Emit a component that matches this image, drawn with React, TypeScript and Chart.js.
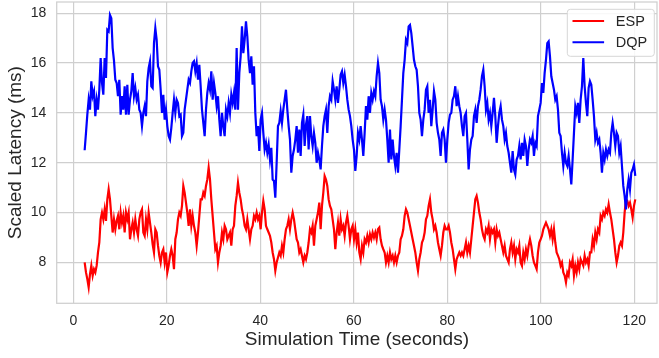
import React, { useEffect, useRef } from "react";
import { Chart, registerables } from "chart.js";

Chart.register(...registerables);

// Simulation sampling
const SAMPLE_START = 2.43; // seconds
const SAMPLE_INTERVAL = 0.2852; // seconds

const X_TICKS = [0, 20, 40, 60, 80, 100, 120];
const Y_TICKS = [8, 10, 12, 14, 16, 18];

const SERIES_NAMES = ["ESP", "DQP"];

const ESP_LATENCY = [
  8.0, 7.6, 7.33, 7.0, 7.53, 7.87, 7.47, 7.73, 7.6, 7.87, 8.4, 8.8, 9.73, 10.0, 9.73, 10.13, 9.67, 10.53, 10.93, 10.53,
  9.87, 9.2, 9.73, 9.33, 9.67, 9.87, 9.33, 10.0, 9.6, 9.87, 9.2, 10.0, 9.73, 10.0, 8.93, 9.33, 9.6, 9.2, 9.73, 9.33,
  9.07, 9.73, 10.0, 10.13, 9.2, 9.07, 9.73, 9.33, 10.0,
  9.6, 9.2, 8.73, 8.4, 9.33, 9.2, 8.67, 8.27, 8.0, 8.4, 8.53, 8.0, 8.4, 7.6, 7.87, 8.27, 8.53, 8.27, 7.73, 8.93,
  9.2, 9.73, 10.0, 9.87, 10.27, 11.07, 10.8, 10.4, 10.0, 9.47, 10.13, 9.47, 9.87, 9.47, 9.2, 8.67, 9.2, 9.87, 10.53, 10.53,
  10.8, 10.67, 11.07, 11.33, 11.8, 11.33, 10.53, 9.87, 9.2, 8.53, 8.67, 8.0, 8.4, 8.67, 9.2, 8.93, 9.47, 9.33, 8.93, 9.07,
  9.2, 8.67, 9.33, 9.47, 10.27, 10.67, 11.2, 10.8, 10.53, 10.13, 9.87, 9.47, 9.33, 9.73, 9.33, 8.93, 9.33, 9.47, 9.87, 9.73,
  10.0, 9.73, 9.87, 9.33, 10.0, 10.47, 10.13, 9.47, 9.33, 9.2, 9.07, 8.8, 8.4, 8.13, 7.67, 8.0, 8.2, 8.4, 8.27, 8.67,
  8.4, 8.93, 9.33, 9.47, 9.73, 9.33, 9.73, 10.0, 9.73, 9.33, 8.93, 8.8, 8.4, 8.53, 8.27, 8.0, 8.27, 8.13, 8.4, 8.8,
  9.33, 9.2, 9.47, 8.67, 9.47, 9.73, 10.0, 10.4, 9.33, 10.27, 10.8, 11.47, 11.33, 11.07, 10.53, 10.27, 10.13, 9.73, 9.33, 8.53,
  9.2, 9.6, 9.07, 9.73, 9.33, 9.47, 9.07, 9.6, 9.87, 9.47, 8.93, 9.33, 9.47, 8.93, 9.33, 8.8, 9.2, 8.4, 8.13, 8.67,
  8.4, 8.93, 8.8, 9.07, 8.8, 9.13, 8.93, 9.2, 9.0, 9.2, 8.93, 9.33, 9.4, 8.93, 8.67, 8.53, 8.4, 8.0, 8.27, 8.0,
  8.4, 8.13, 8.27, 8.0, 8.27, 8.0, 8.27, 8.4, 8.93, 9.07, 9.33, 9.87, 10.13, 10.0, 9.73, 9.47, 9.2, 8.93, 8.67, 8.4,
  8.0, 7.67, 8.13, 8.4, 8.8, 8.93, 9.2, 9.73, 9.87, 10.27, 10.53, 10.0, 9.73, 9.33, 9.47, 9.2, 8.8, 8.53, 8.27, 8.67,
  9.2, 9.47, 9.33, 9.33, 9.47, 9.2, 8.8, 8.53, 8.13, 7.73, 8.13, 8.27, 8.4, 8.27, 8.4, 8.27, 8.53, 8.8, 8.4, 8.67,
  8.4, 8.93, 9.47, 10.0, 10.53, 10.67, 10.4, 10.0, 9.73, 9.33, 9.07, 8.93, 9.33, 9.2, 9.47, 8.93, 9.33, 9.2, 9.33, 8.8,
  9.33, 9.07, 9.2, 8.93, 8.67, 8.4, 8.67, 8.27, 8.13, 8.0, 8.53, 8.8, 8.4, 8.67, 8.13, 8.53, 8.4, 8.67, 8.0, 7.87,
  8.4, 8.13, 8.53, 8.27, 8.67, 8.93, 8.67, 8.27, 8.0, 7.87, 7.73, 8.4, 8.8, 8.93, 9.07, 9.33, 9.47, 9.6, 9.47, 9.33,
  9.07, 9.33, 8.93, 9.33, 8.8, 8.4, 8.27, 8.13, 7.87, 8.0, 7.6, 7.47, 7.2, 7.6, 7.47, 8.0, 7.87, 8.13, 7.47, 7.87,
  7.6, 8.0, 7.73, 8.13, 8.0, 7.87, 8.27, 8.0, 8.13, 7.87, 8.4, 8.4, 8.93, 8.67, 9.2, 8.93, 9.33, 9.2, 9.87, 9.73,
  10.0, 9.87, 10.13, 10.0, 10.33, 10.0, 9.73, 9.33, 8.93, 8.4, 8.0, 8.27, 8.67, 8.8, 8.67, 9.2, 10.0, 10.53, 10.47, 10.27,
  10.4, 10.13, 9.8, 10.27, 10.53,
];

const DQP_LATENCY = [
  12.5, 13.2, 13.93, 14.53, 14.13, 15.27, 14.67, 14.87, 13.87, 14.53, 14.13, 14.93, 16.2, 15.2, 14.73, 16.2, 15.4, 17.33, 17.27, 17.93,
  17.8, 16.6, 16.1, 15.33, 15.2, 14.67, 15.33, 13.93, 14.67, 14.13, 15.07, 13.93, 15.13, 13.93, 14.53, 14.87, 15.6, 14.67, 15.0, 14.53,
  14.73, 14.13, 14.0, 13.47, 14.0, 14.27, 13.87, 15.27, 15.8,
  16.07, 15.07, 15.0, 16.8, 17.4, 16.93, 15.87, 15.73, 14.93, 14.0, 14.73, 13.73, 14.13, 13.47, 13.07, 12.93, 13.4, 14.0, 14.53, 14.0,
  14.53, 14.4, 13.87, 13.93, 13.07, 13.2, 14.13, 14.53, 14.93, 15.33, 15.2, 15.67, 16.0, 16.07, 15.67, 16.0, 15.33, 15.93, 15.07, 14.13,
  13.6, 13.07, 14.13, 14.8, 15.2, 14.93, 15.67, 14.53, 15.2, 14.8, 14.27, 14.67, 13.73, 13.07, 14.0, 13.47, 13.07, 14.13, 13.87, 14.4,
  14.0, 14.73, 14.4, 14.8, 14.13, 16.6, 14.13, 15.6, 16.27, 17.47, 16.4, 16.93, 17.67, 17.07, 16.13, 15.6, 16.27, 15.13, 15.87, 14.0,
  13.07, 13.47, 12.47, 13.73, 14.0, 13.2, 12.53, 12.8, 12.4, 12.73, 12.13, 12.6, 11.33, 11.27, 10.6, 12.0, 13.47, 13.6, 14.07, 13.6,
  14.13, 14.53, 14.93, 14.13, 13.47, 12.93, 11.6, 12.27, 12.53, 12.93, 13.47, 12.4, 13.33, 12.27, 13.6, 13.93, 12.67, 13.53, 13.87, 12.53,
  13.87, 13.07, 12.67, 13.2, 12.8, 12.0, 12.4, 12.13, 11.73, 12.67, 13.47, 13.87, 14.13, 13.2, 14.27, 14.67, 14.53, 15.27, 14.93, 14.53,
  15.07, 14.4, 14.93, 15.53, 15.67, 15.2, 15.53, 15.07, 14.53, 14.13, 13.87, 13.47, 12.93, 12.53, 11.67, 12.27, 13.2, 12.93, 13.47, 12.93,
  12.27, 13.2, 14.27, 13.73, 14.67, 14.0, 14.8, 14.53, 14.87, 14.67, 15.47, 16.0, 15.6, 14.53, 14.27, 13.73, 14.13, 13.73, 12.93, 12.0,
  13.33, 12.13, 12.93, 12.27, 11.87, 12.4, 11.6, 12.53, 13.47, 14.53, 15.6, 16.13, 16.93, 16.8, 17.47, 17.53, 17.2, 16.67, 16.13, 15.87,
  15.73, 15.07, 14.0, 13.73, 13.07, 13.73, 14.13, 14.93, 15.07, 14.0, 14.53, 13.47, 14.13, 14.87, 14.53, 13.6, 13.2, 12.93, 12.27, 13.2,
  13.33, 12.93, 12.0, 12.93, 13.6, 13.93, 14.0, 14.53, 14.67, 15.07, 14.27, 14.67, 14.27, 14.0, 13.47, 13.07, 13.87, 14.0, 12.93, 11.73,
  12.53, 12.93, 13.07, 13.87, 14.13, 13.6, 14.27, 14.53, 14.93, 15.47, 15.73, 15.07, 14.13, 14.4, 13.73, 14.0, 13.47, 14.0, 14.6, 13.87,
  12.8, 13.47, 14.0, 14.27, 13.73, 13.47, 12.93, 13.2, 12.67, 12.4, 12.0, 11.6, 12.47, 11.73, 11.53, 12.13, 12.27, 12.67, 12.13, 12.8,
  12.27, 12.93, 12.67, 11.87, 12.53, 12.93, 12.8, 13.07, 12.27, 12.8, 12.67, 13.87, 14.13, 14.4, 15.2, 14.8, 15.6, 16.13, 16.8, 16.87,
  16.27, 15.47, 15.2, 14.93, 14.53, 14.67, 14.13, 13.2, 13.07, 12.4, 11.87, 12.4, 12.0, 11.87, 12.27, 11.73, 11.13, 12.13, 13.2, 14.27,
  14.0, 14.4, 13.6, 14.53, 15.07, 16.2, 15.07, 14.4, 13.87, 15.0, 15.27, 15.13, 14.53, 13.87, 12.93, 13.2, 12.8, 12.93, 12.4, 11.6,
  12.4, 12.13, 12.53, 12.27, 12.53, 12.4, 13.2, 13.6, 13.2, 12.67, 13.2, 13.07, 12.4, 12.67, 11.87, 11.07, 10.67, 10.13, 10.93, 11.33,
  10.93, 11.6, 11.73, 11.93, 11.47,
];

const SERIES_COLORS = ["#ff0000", "#0000ff"];

const FONT_FAMILY = '"Liberation Sans", Arial, Helvetica, sans-serif';
const TEXT_COLOR = "#262626";
const GRID_COLOR = "#cfcfcf";

function toPoints(values: number[]) {
  return values.map((v, i) => ({ x: SAMPLE_START + i * SAMPLE_INTERVAL, y: v }));
}

const frameAndLegend = {
  id: "frameAndLegend",
  afterDatasetsDraw(chart: any) {
    const { ctx, chartArea } = chart;
    ctx.save();
    ctx.strokeStyle = GRID_COLOR;
    ctx.lineWidth = 1.25;
    ctx.strokeRect(chartArea.left, chartArea.top, chartArea.right - chartArea.left, chartArea.bottom - chartArea.top);
    ctx.restore();
  },
  afterDraw(chart: any) {
    const { ctx, chartArea } = chart;
    const boxW = 87;
    const boxH = 47;
    const bx = chartArea.right - 2.7 - boxW;
    const by = chartArea.top + 7.3;
    ctx.save();
    ctx.beginPath();
    const r = 3;
    ctx.moveTo(bx + r, by);
    ctx.lineTo(bx + boxW - r, by);
    ctx.quadraticCurveTo(bx + boxW, by, bx + boxW, by + r);
    ctx.lineTo(bx + boxW, by + boxH - r);
    ctx.quadraticCurveTo(bx + boxW, by + boxH, bx + boxW - r, by + boxH);
    ctx.lineTo(bx + r, by + boxH);
    ctx.quadraticCurveTo(bx, by + boxH, bx, by + boxH - r);
    ctx.lineTo(bx, by + r);
    ctx.quadraticCurveTo(bx, by, bx + r, by);
    ctx.closePath();
    ctx.fillStyle = "rgba(255,255,255,0.85)";
    ctx.fill();
    ctx.strokeStyle = "#d6d6d6";
    ctx.lineWidth = 1;
    ctx.stroke();
    const rows = [by + 11.7, by + 33];
    SERIES_NAMES.forEach((name, i) => {
      const yy = rows[i];
      ctx.beginPath();
      ctx.strokeStyle = SERIES_COLORS[i];
      ctx.lineWidth = 2;
      ctx.moveTo(bx + 5.2, yy);
      ctx.lineTo(bx + 36.8, yy);
      ctx.stroke();
      ctx.fillStyle = TEXT_COLOR;
      ctx.font = `14.5px ${FONT_FAMILY}`;
      ctx.textBaseline = "middle";
      ctx.textAlign = "left";
      ctx.fillText(name, bx + 48.5, yy + 0.5);
    });
    ctx.restore();
  },
};

export default function App() {
  const ref = useRef<HTMLCanvasElement | null>(null);
  useEffect(() => {
    if (!ref.current) return;
    const chart = new Chart(ref.current, {
      type: "line",
      data: {
        datasets: [
          {
            label: SERIES_NAMES[0],
            data: toPoints(ESP_LATENCY),
            borderColor: SERIES_COLORS[0],
            backgroundColor: SERIES_COLORS[0],
            borderWidth: 2.2,
            pointRadius: 0,
            tension: 0,
            order: 2,
          },
          {
            label: SERIES_NAMES[1],
            data: toPoints(DQP_LATENCY),
            borderColor: SERIES_COLORS[1],
            backgroundColor: SERIES_COLORS[1],
            borderWidth: 2.2,
            pointRadius: 0,
            tension: 0,
            order: 1,
          },
        ],
      },
      options: {
        animation: false,
        responsive: false,
        devicePixelRatio: 1,
        layout: { padding: { top: 2, right: 2, left: 0, bottom: 0 } },
        plugins: { legend: { display: false }, tooltip: { enabled: false } },
        scales: {
          x: {
            type: "linear",
            min: -3.55,
            max: 124.86,
            afterBuildTicks: (scale: any) => {
              scale.ticks = X_TICKS.map((v) => ({ value: v }));
            },
            afterFit: (scale: any) => {
              scale.height = 54.7;
              scale.paddingLeft = 0;
              scale.paddingRight = 0;
            },
            border: { display: false },
            grid: { color: GRID_COLOR, lineWidth: 1.2, drawTicks: false },
            ticks: {
              padding: 9,
              color: TEXT_COLOR,
              font: { family: FONT_FAMILY, size: 14 },
              maxRotation: 0,
              callback: (v: any) => String(v),
            },
            title: {
              display: true,
              text: "Simulation Time (seconds)",
              color: TEXT_COLOR,
              font: { family: FONT_FAMILY, size: 19 },
              padding: { top: 0, bottom: 6.6 },
            },
          },
          y: {
            type: "linear",
            min: 6.36,
            max: 18.45,
            afterBuildTicks: (scale: any) => {
              scale.ticks = Y_TICKS.map((v) => ({ value: v }));
            },
            afterFit: (scale: any) => {
              scale.width = 56.7;
              scale.paddingTop = 0;
              scale.paddingBottom = 0;
            },
            border: { display: false },
            grid: { color: GRID_COLOR, lineWidth: 1.2, drawTicks: false },
            ticks: {
              padding: 10.5,
              color: TEXT_COLOR,
              font: { family: FONT_FAMILY, size: 14 },
              callback: (v: any) => String(v),
            },
            title: {
              display: true,
              text: "Scaled Latency (ms)",
              color: TEXT_COLOR,
              font: { family: FONT_FAMILY, size: 19 },
              padding: { top: 4.6, bottom: 0 },
            },
          },
        },
      },
      plugins: [frameAndLegend],
    });
    return () => chart.destroy();
  }, []);

  return (
    <div style={{ position: "fixed", left: 0, top: 0, width: 659, height: 358, background: "#ffffff" }}>
      <canvas ref={ref} width={659} height={358} style={{ width: 659, height: 358, display: "block" }} />
    </div>
  );
}
